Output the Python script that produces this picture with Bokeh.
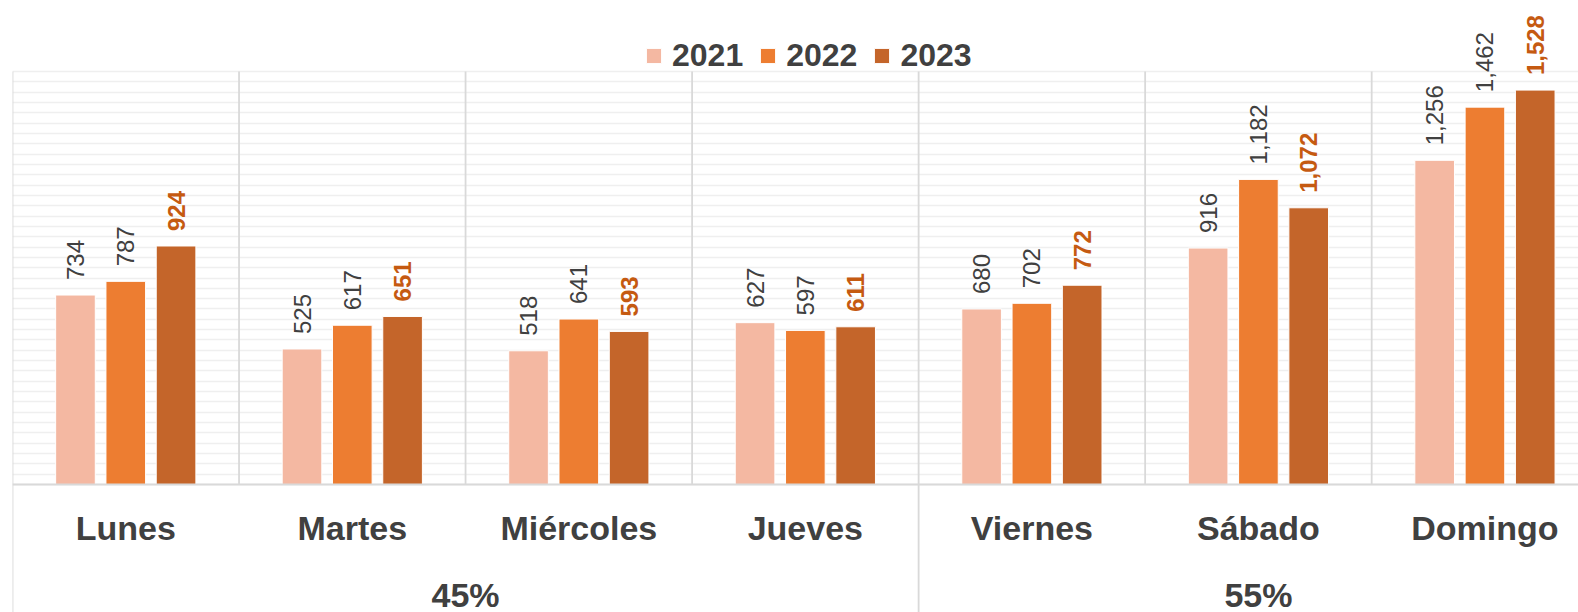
import math
from bokeh.plotting import figure
from bokeh.models import ColumnDataSource, Range1d, SingleIntervalTicker, Legend, LegendItem, Grid
from bokeh.core.properties import value
from bokeh.embed import file_html
from bokeh.resources import INLINE

# ---- data ----
categories = ["Lunes", "Martes", "Miércoles", "Jueves", "Viernes", "Sábado", "Domingo"]
years = ["2021", "2022", "2023"]
v2021 = [734, 525, 518, 627, 680, 916, 1256]
v2022 = [787, 617, 641, 597, 702, 1182, 1462]
v2023 = [924, 651, 593, 611, 772, 1072, 1528]
groups = ["45%", "55%"]
group_sizes = [4, 3]

# ---- styles ----
colors = ["#F4B8A2", "#ED7D31", "#C4652A"]
label_colors = ["#404040", "#404040", "#C55A11"]
label_styles = ["normal", "normal", "bold"]
FONT = "Liberation Sans"
GRAY_TXT = "#404040"

n = len(categories)
p = figure(width=1578, height=612,
           x_range=Range1d(0, 6.913), y_range=Range1d(-495.9, 1875.1),
           output_backend="svg", toolbar_location=None,
           x_axis_location=None, y_axis_location=None,
           min_border_left=12, min_border_right=0, min_border_top=0, min_border_bottom=0,
           outline_line_color=None)

for r in list(p.center):
    if isinstance(r, Grid):
        r.visible = False

g = Grid(dimension=1, ticker=SingleIntervalTicker(interval=40), bounds=(0, 1600),
         grid_line_color="#EFEFEF", grid_line_width=1.6)
p.add_layout(g)

ymax = 1600
bounds_x = list(range(n + 1))
group_edges = [0]
for s in group_sizes:
    group_edges.append(group_edges[-1] + s)

inner = [b for b in bounds_x if b not in group_edges]
p.segment(x0=inner, y0=[0] * len(inner), x1=inner, y1=[ymax] * len(inner),
          line_color="#D9D9D9", line_width=1.8)
p.segment(x0=group_edges, y0=[p.y_range.start] * len(group_edges), x1=group_edges,
          y1=[ymax] * len(group_edges), line_color="#D9D9D9", line_width=1.8)

series = [v2021, v2022, v2023]
offsets = [-0.222, 0.0, 0.222]
renderers = []
for vals, off, col, lc, ls in zip(series, offsets, colors, label_colors, label_styles):
    xs = [i + 0.5 + off for i in range(n)]
    src = ColumnDataSource(dict(x=xs, top=vals, lab=[f"{v:,}" for v in vals]))
    r = p.vbar(x="x", top="top", width=0.175, bottom=0, source=src,
               fill_color=col, line_color="white", line_width=1)
    renderers.append(r)
    p.text(x="x", y="top", text="lab", source=src, angle=math.pi / 2,
           text_align="left", text_baseline="middle", y_offset=-15,
           text_font=value(FONT), text_font_size="24px",
           text_font_style=ls, text_color=lc)

# axis line
p.segment(x0=[0], y0=[0], x1=[n], y1=[0], line_color="#D9D9D9", line_width=2)

# category labels
p.text(x=[i + 0.5 for i in range(n)], y=[0] * n, text=categories,
       text_align="center", text_baseline="middle", y_offset=44,
       text_font=value(FONT), text_font_size="34px", text_font_style="bold",
       text_color=GRAY_TXT)

# group labels
gcent = [(group_edges[k] + group_edges[k + 1]) / 2 for k in range(len(groups))]
p.text(x=gcent, y=[0] * len(groups), text=groups,
       text_align="center", text_baseline="middle", y_offset=111,
       text_font=value(FONT), text_font_size="34px", text_font_style="bold",
       text_color=GRAY_TXT)

legend = Legend(items=[LegendItem(label=y, renderers=[r]) for y, r in zip(years, renderers)],
                orientation="horizontal", location=(632, 538),
                label_text_font=FONT, label_text_font_style="bold",
                label_text_font_size="32px", label_text_color=GRAY_TXT,
                glyph_width=19, glyph_height=19, label_standoff=9, spacing=15,
                padding=0, margin=0, border_line_color=None, background_fill_alpha=0)
p.add_layout(legend)

open("out.html", "w").write(file_html(p, INLINE))
